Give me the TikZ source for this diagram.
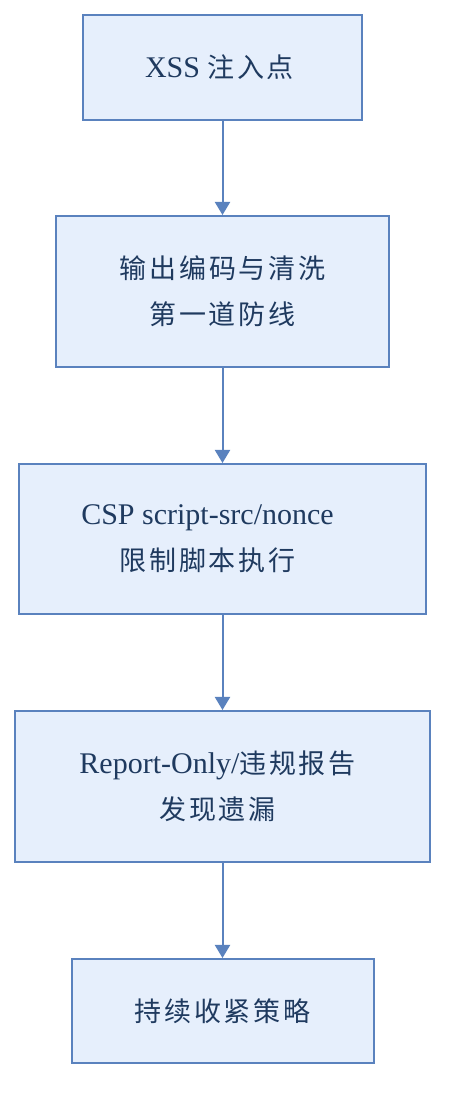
\documentclass[tikz,border=0pt]{standalone}
\usepackage{fontspec}
\setmainfont{Liberation Serif}
\newfontfamily\cjk[Scale=0.9,LetterSpace=10]{Noto Sans CJK SC}
\usepackage{xcolor}
\usepackage{tikz}
\usetikzlibrary{shapes,arrows.meta,positioning,calc}

\definecolor{boxfill}{HTML}{E6EFFC}
\definecolor{boxline}{HTML}{5A82BE}
\definecolor{boxtext}{HTML}{1F3A5F}

\newcommand{\zhtxt}[1]{{\cjk #1}}

\tikzset{
  stepbox/.style={draw=boxline,line width=2pt,rectangle,fill=boxfill,text=boxtext,align=center,
    font=\fontsize{30}{46}\selectfont,inner sep=0pt},
  flow/.style={-{Triangle[width=15pt,length=13pt]},draw=boxline,line width=2pt}
}

\begin{document}
\begin{tikzpicture}[x=1pt,y=1pt]
\useasboundingbox (0,0) rectangle (462,1116);

% Step 1: injection point
\node[stepbox,minimum width=279pt,minimum height=105pt] (xss) at (222.5,1048.5) {XSS \zhtxt{注入点}\hspace*{6pt}};

% Step 2: output encoding
\node[stepbox,minimum width=333pt,minimum height=151pt] (encode) at (222.5,824.5) {
  \zhtxt{输出编码与清洗}\\
  \zhtxt{第一道防线}
};

% Step 3: CSP
\node[stepbox,minimum width=407pt,minimum height=150pt] (csp) at (222.5,577) {
  CSP script-src/nonce\hspace*{30pt}\\
  \zhtxt{限制脚本执行}\hspace*{30pt}
};

% Step 4: reporting
\node[stepbox,minimum width=415pt,minimum height=151pt] (report) at (222.5,329.5) {
  Report-Only/\zhtxt{违规报告}\hspace*{10pt}\\
  \zhtxt{发现遗漏}\hspace*{10pt}
};

% Step 5: tighten
\node[stepbox,minimum width=302pt,minimum height=104pt] (tighten) at (222.5,105) {\zhtxt{持续收紧策略}};

% Arrows between steps
\draw[flow] (xss) -- (encode);
\draw[flow] (encode) -- (csp);
\draw[flow] (csp) -- (report);
\draw[flow] (report) -- (tighten);

\end{tikzpicture}
\end{document}
